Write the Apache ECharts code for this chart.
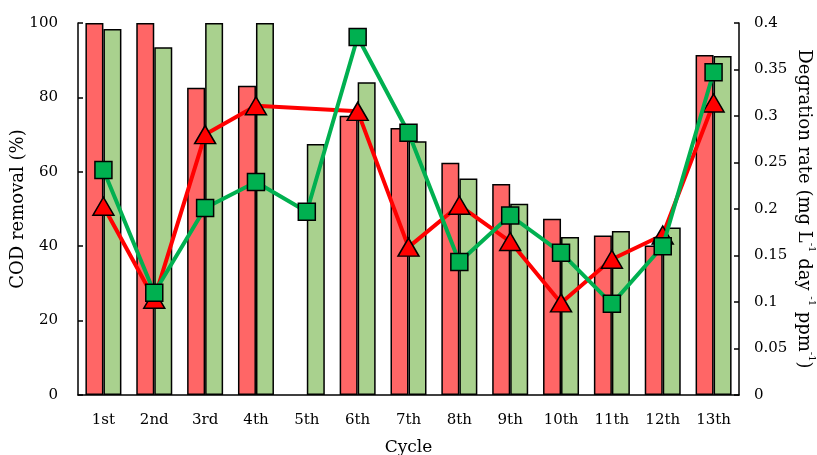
<!DOCTYPE html>
<html>
<head>
<meta charset="utf-8">
<script src="https://cdn.jsdelivr.net/npm/echarts@6/dist/echarts.min.js"></script>
<style>
  html, body { margin: 0; padding: 0; background: #fff; }
  #chart { width: 817px; height: 455px; }
</style>
</head>
<body>
<div id="chart"></div>
<script>
// Cycle labels on the category axis
const cycles = ['1st', '2nd', '3rd', '4th', '5th', '6th', '7th', '8th', '9th', '10th', '11th', '12th', '13th'];

// COD removal (%) bars, left axis
const codRed = [100, 100, 82.6, 83.1, null, 75.1, 71.8, 62.4, 56.7, 47.4, 42.9, 40.2, 91.4];
const codGreen = [98.4, 93.5, 100, 100, 67.5, 84.1, 68.2, 58.2, 51.4, 42.5, 44.1, 45.0, 91.1];

// Degradation rate lines, right axis
const rateRed = [0.203, 0.103, 0.280, 0.311, null, 0.305, 0.159, 0.204, 0.165, 0.099, 0.146, 0.172, 0.314];
const rateGreen = [0.242, 0.110, 0.201, 0.229, 0.197, 0.385, 0.282, 0.143, 0.193, 0.153, 0.098, 0.160, 0.347];

// Tick values
const leftTicks = [0, 20, 40, 60, 80, 100];
const rightTicks = [0, 0.05, 0.1, 0.15, 0.2, 0.25, 0.3, 0.35, 0.4];

const FONT = 'DejaVu Serif';
const chart = echarts.init(document.getElementById('chart'), null, { renderer: 'canvas' });

const axisText = { fontFamily: FONT, fontSize: 15, color: '#000' };

chart.setOption({
  animation: false,
  backgroundColor: '#fff',
  grid: { left: 78, right: 78, top: 23, bottom: 60, containLabel: false, outerBoundsMode: 'none' },
  xAxis: {
    type: 'category',
    data: cycles,
    name: 'Cycle',
    nameLocation: 'middle',
    nameGap: 44,
    nameMoveOverlap: false,
    nameTextStyle: { fontFamily: FONT, fontSize: 17, color: '#000' },
    axisLine: { lineStyle: { color: '#000', width: 1.5 } },
    axisTick: { alignWithLabel: true, length: 4, lineStyle: { color: '#000', width: 1.5 } },
    axisLabel: Object.assign({ margin: 18 }, axisText)
  },
  yAxis: [
    {
      type: 'value',
      min: leftTicks[0],
      max: leftTicks[leftTicks.length - 1],
      interval: leftTicks[1] - leftTicks[0],
      name: 'COD removal (%)',
      nameLocation: 'middle',
      nameGap: 51,
      nameMoveOverlap: false,
      nameTextStyle: { fontFamily: FONT, fontSize: 18, color: '#000' },
      axisLine: { show: true, lineStyle: { color: '#000', width: 1.5 } },
      axisTick: { show: true, inside: true, length: 5, lineStyle: { color: '#000', width: 1.5 } },
      axisLabel: Object.assign({ margin: 20 }, axisText),
      splitLine: { show: false }
    },
    {
      type: 'value',
      position: 'right',
      min: rightTicks[0],
      max: rightTicks[rightTicks.length - 1],
      interval: 0.05,
      name: '{b|Degration rate (mg L}{s|-1}{b| day }{s|-1}{b| ppm}{s|-1}{b|)}',
      nameLocation: 'middle',
      nameRotate: -90,
      nameGap: 56,
      nameMoveOverlap: false,
      nameTextStyle: {
        fontFamily: FONT, fontSize: 18, color: '#000',
        rich: {
          b: { fontFamily: FONT, fontSize: 18, color: '#000', lineHeight: 22, verticalAlign: 'bottom' },
          s: { fontFamily: FONT, fontSize: 10, color: '#000', lineHeight: 22, verticalAlign: 'top' }
        }
      },
      axisLine: { show: true, lineStyle: { color: '#000', width: 1.5 } },
      axisTick: { show: true, inside: true, length: 5, lineStyle: { color: '#000', width: 1.5 } },
      axisLabel: Object.assign({ margin: 15 }, axisText),
      splitLine: { show: false }
    }
  ],
  series: [
    {
      type: 'bar',
      yAxisIndex: 0,
      data: codRed,
      barWidth: 18,
      barGap: '0%',
      itemStyle: { color: '#ff6666', borderColor: '#000', borderWidth: 1.5 }
    },
    {
      type: 'bar',
      yAxisIndex: 0,
      data: codGreen,
      barWidth: 18,
      barGap: '0%',
      itemStyle: { color: '#a9d18e', borderColor: '#000', borderWidth: 1.5 }
    },
    {
      type: 'line',
      yAxisIndex: 1,
      data: rateRed,
      connectNulls: true,
      symbol: 'triangle',
      symbolSize: [21, 18],
      lineStyle: { color: '#ff0000', width: 4 },
      itemStyle: { color: '#ff0000', borderColor: '#000', borderWidth: 1.5 },
      z: 3
    },
    {
      type: 'line',
      yAxisIndex: 1,
      data: rateGreen,
      connectNulls: true,
      symbol: 'rect',
      symbolSize: 17,
      lineStyle: { color: '#00b050', width: 4 },
      itemStyle: { color: '#00b050', borderColor: '#000', borderWidth: 1.5 },
      z: 4
    }
  ]
});
</script>
</body>
</html>
